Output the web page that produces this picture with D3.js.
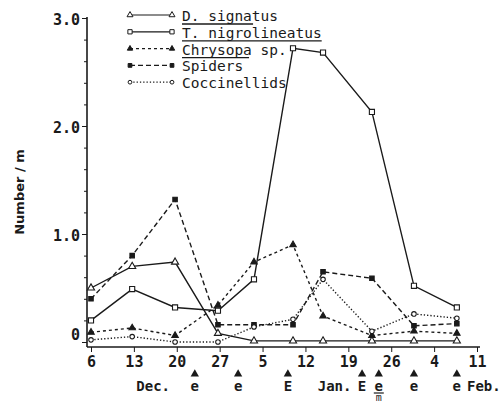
<html>
<head>
  <meta charset="utf-8" />
  <script src="https://d3js.org/d3.v7.min.js"></script>
</head>
<body style="margin: 0; background: white">
<script>

// x axis: equally spaced weekly ticks
var tickLabels = ['6', '13', '20', '27', '5', '12', '19', '26', '4', '11']
// sampling dates, in tick units
var sampleAt = [0, 0.96, 1.96, 2.96, 3.8, 4.71, 5.41, 6.55, 7.53, 8.53]

var dSignatus    = [0.50, 0.70, 0.74, 0.08, 0.01, 0.01, 0.01, 0.01, 0.01, 0.01]
var tNigro       = [0.20, 0.49, 0.32, 0.29, 0.58, 2.72, 2.68, 2.13, 0.52, 0.32]
var chrysopa     = [0.09, 0.13, 0.06, 0.34, 0.74, 0.90, 0.24, 0.06, 0.10, 0.08]
var spiders      = [0.40, 0.80, 1.32, 0.16, 0.16, 0.16, 0.65, 0.59, 0.15, 0.17]
var coccinellids = [0.02, 0.05, 0.00, 0.00, 0.14, 0.21, 0.58, 0.10, 0.26, 0.22]

var seriesNames = ['D. signatus', 'T. nigrolineatus', 'Chrysopa sp.', 'Spiders', 'Coccinellids']

var yMajor = [0, 1, 2, 3]
var monthNames = ['Dec.', 'Jan.', 'Feb.']
var monthAt = [1.45, 5.68, 9.16]

// spray markers under the axis
var sprayAt = [2.42, 3.43, 4.59, 6.32, 6.71, 7.53, 8.53]
var sprayCode = ['e', 'e', 'E', 'E', 'e', 'e', 'e']

var font = "'DejaVu Sans Mono', monospace"
var ink = '#1a1a1a'

var svg = d3.select('body').append('svg')
  .attr('width', 502)
  .attr('height', 402)
  .style('font-family', font)

var x = d3.scaleLinear().domain([0, 9]).range([91, 477])
var y = d3.scaleLinear().domain([0, 3]).range([342, 18])

// axes
var yAxis = d3.axisLeft(y)
  .tickValues(d3.range(0, 3.01, 0.2))
  .tickSizeOuter(0)
  .tickFormat(function(d) {
    var m = yMajor.find(function(v) { return Math.abs(v - d) < 1e-6 })
    if (m === undefined) return ''
    return m === 0 ? '0' : m.toFixed(1)
  })

var gy = svg.append('g').attr('transform', 'translate(87,0)').call(yAxis)
gy.select('.domain').remove()
gy.selectAll('.tick line')
  .attr('stroke', ink)
  .attr('x2', function(d) { return yMajor.some(function(v) { return Math.abs(v - d) < 1e-6 }) ? -5 : -3 })
gy.selectAll('.tick text')
  .attr('x', -7)
  .attr('dy', function(d) { return d < 0.01 ? '-0.2em' : '0.45em' })
  .style('font-family', font)
  .style('font-size', '15px')
  .style('font-weight', 'bold')
  .attr('fill', ink)

svg.append('line')
  .attr('x1', 87).attr('x2', 87)
  .attr('y1', 17).attr('y2', 347)
  .attr('stroke', ink).attr('stroke-width', 1.6)

var xAxis = d3.axisBottom(x)
  .tickValues(d3.range(10))
  .tickSizeOuter(0)
  .tickSize(5)
  .tickPadding(4)
  .tickFormat(function(d) { return tickLabels[d] })

var gx = svg.append('g').attr('transform', 'translate(0,347)').call(xAxis)
gx.select('.domain').remove()
gx.selectAll('.tick line').attr('stroke', ink)
gx.selectAll('.tick text')
  .style('font-family', font)
  .style('font-size', '15px')
  .style('font-weight', 'bold')
  .attr('fill', ink)

svg.append('line')
  .attr('x1', 87).attr('x2', 480)
  .attr('y1', 347).attr('y2', 347)
  .attr('stroke', ink).attr('stroke-width', 1.6)

// y label
svg.append('text')
  .attr('transform', 'translate(24,192) rotate(-90)')
  .attr('text-anchor', 'middle')
  .style('font-family', "'DejaVu Sans', sans-serif")
  .style('font-size', '13px')
  .style('font-weight', 'bold')
  .attr('fill', ink)
  .text('Number / m')

// month names and spray markers
svg.selectAll('.month').data(monthNames).enter().append('text')
  .attr('class', 'month')
  .attr('x', function(d, i) { return x(monthAt[i]) })
  .attr('y', 391)
  .attr('text-anchor', 'middle')
  .style('font-size', '14px')
  .style('font-weight', 'bold')
  .attr('fill', ink)
  .text(function(d) { return d })

var tri = d3.symbol().type(d3.symbolTriangle)
svg.selectAll('.spray').data(sprayAt).enter().append('path')
  .attr('class', 'spray')
  .attr('d', tri.size(30)())
  .attr('transform', function(d) { return 'translate(' + x(d) + ',374)' })
  .attr('fill', ink)

svg.selectAll('.code').data(sprayCode).enter().append('text')
  .attr('class', 'code')
  .attr('x', function(d, i) { return x(sprayAt[i]) })
  .attr('y', 391)
  .attr('text-anchor', 'middle')
  .style('font-size', '14px')
  .style('font-weight', 'bold')
  .attr('fill', ink)
  .text(function(d) { return d })

svg.append('line')
  .attr('x1', x(sprayAt[4]) - 5).attr('x2', x(sprayAt[4]) + 5)
  .attr('y1', 393).attr('y2', 393)
  .attr('stroke', ink).attr('stroke-width', 1.2)
svg.append('text')
  .attr('x', x(sprayAt[4]))
  .attr('y', 401)
  .attr('text-anchor', 'middle')
  .style('font-size', '10px')
  .attr('fill', ink)
  .text('m')

// series
var series = [dSignatus, tNigro, chrysopa, spiders, coccinellids]
var dashes = [null, null, '3,3', '5,3', '1.3,2']
var shapes = [d3.symbolTriangle, d3.symbolSquare, d3.symbolTriangle, d3.symbolSquare, d3.symbolCircle]
var sizes = [22, 26, 18, 20, 16]
var filled = [false, false, true, true, false]

var line = d3.line()
  .x(function(d, i) { return x(sampleAt[i]) })
  .y(function(d) { return y(d) })

series.forEach(function(vals, s) {
  svg.append('path')
    .datum(vals)
    .attr('d', line)
    .attr('fill', 'none')
    .attr('stroke', ink)
    .attr('stroke-width', 1.4)
    .attr('stroke-dasharray', dashes[s])

  svg.selectAll('.pt' + s).data(vals).enter().append('path')
    .attr('class', 'pt' + s)
    .attr('d', d3.symbol().type(shapes[s]).size(sizes[s])())
    .attr('transform', function(d, i) { return 'translate(' + x(sampleAt[i]) + ',' + y(d) + ')' })
    .attr('fill', filled[s] ? ink : 'white')
    .attr('stroke', ink)
    .attr('stroke-width', 1.1)
})

// legend
var underline = [0.74, 1, 0.64, 0, 0]
var legend = svg.selectAll('.leg').data(seriesNames).enter().append('g')
  .attr('class', 'leg')
  .attr('transform', function(d, i) { return 'translate(0,' + (15 + i * 16.8) + ')' })

legend.append('line')
  .attr('x1', 130).attr('x2', 172)
  .attr('stroke', ink).attr('stroke-width', 1.2)
  .attr('stroke-dasharray', function(d, i) { return dashes[i] })

legend.each(function(d, i) {
  var g = d3.select(this)
  ;[130, 172].forEach(function(px) {
    g.append('path')
      .attr('d', d3.symbol().type(shapes[i]).size(sizes[i] * 0.7)())
      .attr('transform', 'translate(' + px + ',0)')
      .attr('fill', filled[i] ? ink : 'white')
      .attr('stroke', ink).attr('stroke-width', 1)
  })
  var t = g.append('text')
    .attr('x', 182).attr('y', 6)
    .style('font-size', '14.5px')
    .attr('fill', ink)
    .text(d)
  if (underline[i] > 0) {
    var w = t.node().getComputedTextLength()
    g.append('line')
      .attr('x1', 182).attr('x2', 182 + w * underline[i])
      .attr('y1', 9).attr('y2', 9)
      .attr('stroke', ink).attr('stroke-width', 1.3)
  }
})

</script>
</body>
</html>
